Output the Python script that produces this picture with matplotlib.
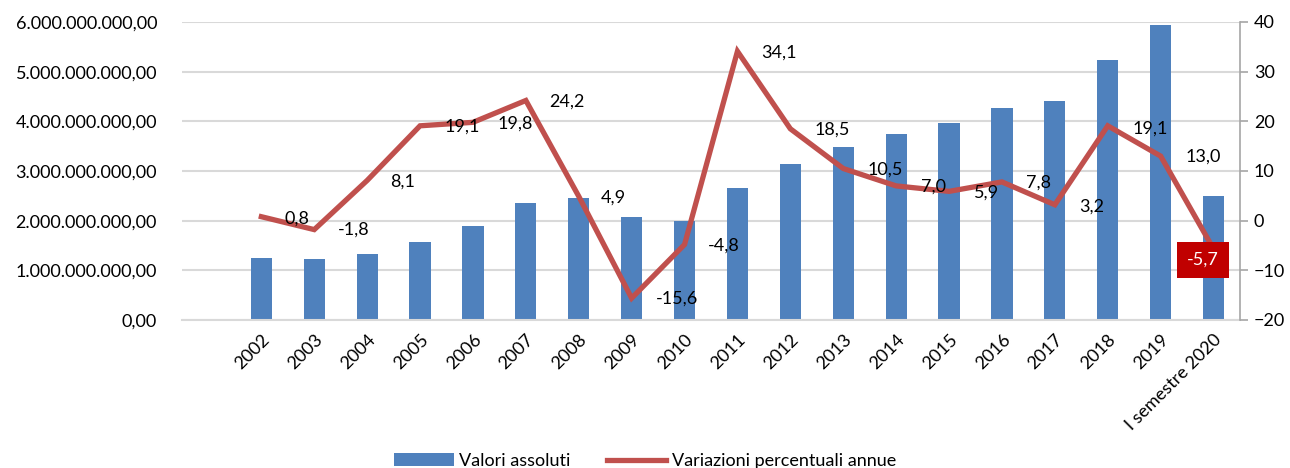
import matplotlib
matplotlib.use("Agg")
import matplotlib.pyplot as plt
from matplotlib.ticker import FuncFormatter, MultipleLocator

# ---- data ----
categories = ["2002", "2003", "2004", "2005", "2006", "2007", "2008", "2009", "2010",
              "2011", "2012", "2013", "2014", "2015", "2016", "2017", "2018", "2019",
              "I semestre 2020"]
valori_assoluti = [1.25e9, 1.23e9, 1.33e9, 1.58e9, 1.90e9, 2.36e9, 2.46e9, 2.07e9, 1.99e9,
                   2.66e9, 3.15e9, 3.49e9, 3.74e9, 3.96e9, 4.26e9, 4.40e9, 5.24e9, 5.93e9,
                   2.49e9]
variazioni = [0.8, -1.8, 8.1, 19.1, 19.8, 24.2, 4.9, -15.6, -4.8, 34.1, 18.5, 10.5, 7.0,
              5.9, 7.8, 3.2, 19.1, 13.0, -5.7]
series_names = ["Valori assoluti", "Variazioni percentuali annue"]

# ---- layout for data labels (positions in data coords, as placed in the original) ----
label_pos = [(0.68, 0.5), (1.74, -1.9), (2.66, 7.8), (3.8, 18.9), (4.8, 19.5), (5.78, 23.9),
             (6.66, 4.6), (7.86, -15.6), (8.74, -5.1), (9.78, 33.8), (10.8, 18.3),
             (11.8, 10.2), (12.7, 6.8), (13.7, 5.6), (14.7, 7.6), (15.7, 2.8),
             (16.8, 18.6), (17.8, 12.8), (17.8, -7.9)]

BAR = "#4F81BD"
LINE = "#C0504D"
BOX = "#C00000"
GRID = "#D9D9D9"
TXT = "#000000"

plt.rcParams['font.family'] = ['Lato', 'DejaVu Sans']
FS = 13

fig = plt.figure(figsize=(12.9, 4.68), dpi=100)
ax = fig.add_axes([182/1290, 1-320/468, (1240-182)/1290, (320-22)/468])
x = list(range(len(categories)))

ax.bar(x, valori_assoluti, width=0.4, color=BAR, zorder=2, label=series_names[0])
ax.set_ylim(0, 6e9)
ax.set_xlim(-1.5, len(categories) - 0.5)
ax.yaxis.set_major_locator(MultipleLocator(1e9))

def it_fmt(v, pos):
    s = f"{v:,.2f}"
    return s.replace(",", "X").replace(".", ",").replace("X", ".")
ax.yaxis.set_major_formatter(FuncFormatter(it_fmt))
ax.grid(axis='y', color=GRID, linewidth=1.5, zorder=0)
ax.set_axisbelow(True)
for s in ["top", "right", "left"]:
    ax.spines[s].set_visible(False)
ax.spines["bottom"].set_color(GRID)
ax.spines["bottom"].set_linewidth(1.5)
ax.tick_params(axis='y', length=0, labelsize=FS, pad=18, colors=TXT)
ax.set_xticks(x)
ax.set_xticklabels(categories, rotation=45, ha='right', rotation_mode='anchor', fontsize=FS)
ax.tick_params(axis='x', length=0, pad=8)

ax2 = ax.twinx()
ax2.plot(x, variazioni, color=LINE, linewidth=3.8, zorder=3, label=series_names[1],
         solid_joinstyle='miter')
ax2.set_ylim(-20, 40)
ax2.yaxis.set_major_locator(MultipleLocator(10))
for s in ["top", "left", "bottom"]:
    ax2.spines[s].set_visible(False)
ax2.spines["right"].set_color("#A6A6A6")
ax2.spines["right"].set_linewidth(1.2)
ax2.tick_params(axis='y', direction='out', length=6, width=1.2, color="#A6A6A6",
                labelsize=FS, pad=4, labelcolor=TXT)

for i, (v, (lx, ly)) in enumerate(zip(variazioni, label_pos)):
    txt = f"{v:.1f}".replace(".", ",")
    if i == len(variazioni) - 1:
        ax2.text(lx, ly, txt, ha='center', va='center', fontsize=FS, color='white',
                 bbox=dict(boxstyle='square,pad=0.55', fc=BOX, ec='none'), zorder=5)
    else:
        ax2.text(lx, ly, txt, ha='center', va='center', fontsize=FS, color=TXT, zorder=5)

h1, l1 = ax.get_legend_handles_labels()
h2, l2 = ax2.get_legend_handles_labels()
fig.legend(h1 + h2, l1 + l2, loc='center', bbox_to_anchor=(0.5, 1 - 461/468),
           ncol=2, frameon=False, fontsize=FS, handlelength=3.3, handleheight=0.7,
           columnspacing=2.0, handletextpad=0.3)

fig.savefig("out.png", dpi=100)
